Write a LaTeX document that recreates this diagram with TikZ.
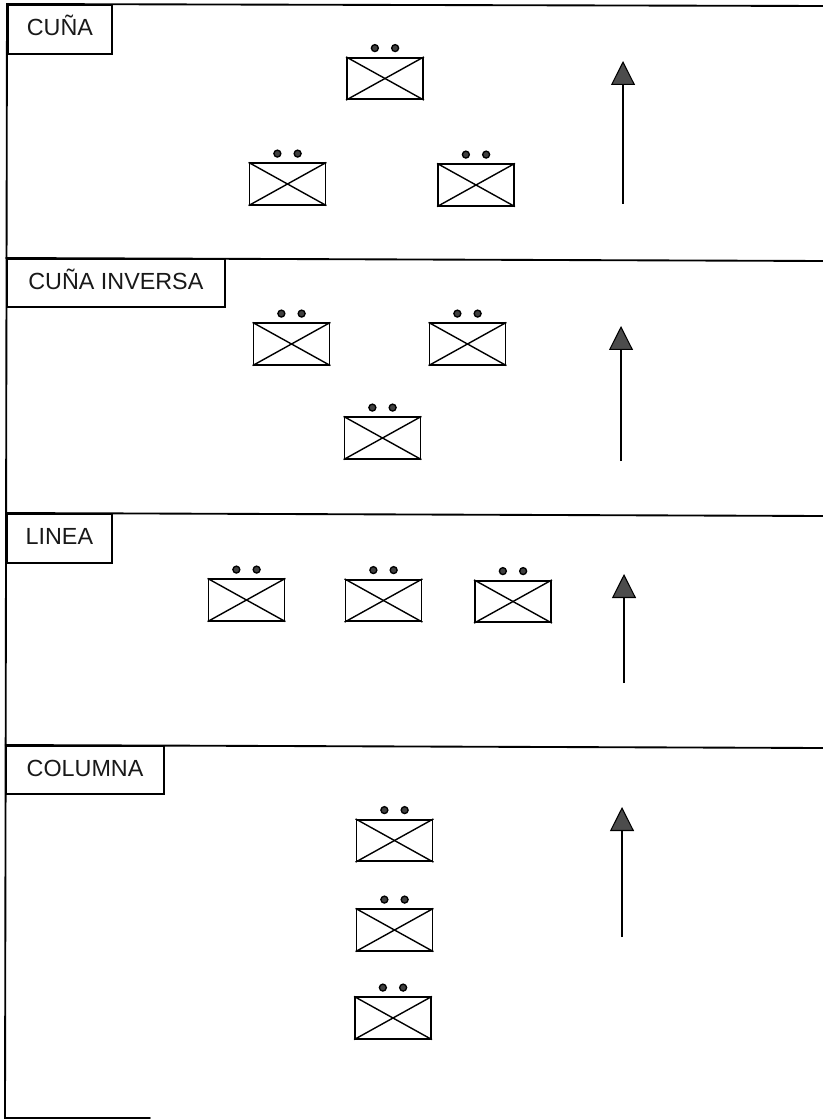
\documentclass[tikz,border=0pt]{standalone}
\usepackage{fontspec}
\setmainfont{Liberation Sans}
\usetikzlibrary{arrows.meta}
\tikzset{
  x=0.75pt,y=-0.75pt,
  frameline/.style={line width=1.4pt,draw=black,line cap=round},
  tabbox/.style={draw=black,line width=1.3pt,fill=white,anchor=north west,inner sep=0pt,
    font=\fontsize{17.5pt}{20pt}\selectfont,text=black!90,text height=13pt,text depth=3.2pt},
  tankbody/.style={draw=black,line width=1.4pt,minimum width=57pt,minimum height=31pt,inner sep=0pt},
  crossline/.style={draw=black,line width=1.05pt},
  lamp/.style={circle,draw=black,line width=1pt,fill=black!75,minimum size=5.2pt,inner sep=0pt},
  dirarrow/.style={line width=1.6pt,draw=black,-{Triangle[length=18pt,width=18pt,fill=black!70,line width=.8pt]}}
}
\newcommand{\vehicle}[3]{% name, x centre, y centre
  \node[tankbody] (#1) at (#2,#3) {};
  \draw[crossline] (#1.north west) -- (#1.south east);
  \draw[crossline] (#1.north east) -- (#1.south west);
  \node[lamp] (#1l) at ([xshift=-7.6pt,yshift=6.6pt]#1.north) {};
  \node[lamp] (#1r) at ([xshift=7.6pt,yshift=6.6pt]#1.north) {};
}
\newcommand{\course}[4]{% name, x, y tip, y tail
  \coordinate (#1tip) at (#2,#3);
  \coordinate (#1tail) at (#2,#4);
  \draw[dirarrow] (#1tail) -- (#1tip);
}
\begin{document}
\begin{tikzpicture}
\useasboundingbox (0,0) rectangle (823,1119);
\coordinate (tl) at (7,4);
\coordinate (tr) at (823,6);
\coordinate (bl) at (5,1118);
\coordinate (bm) at (150,1118);
\coordinate (d1l) at (6,258);
\coordinate (d1r) at (823,261);
\coordinate (d2l) at (6,513);
\coordinate (d2r) at (823,516);
\coordinate (d3l) at (5.5,745);
\coordinate (d3r) at (823,748);
\draw[frameline] (bm) -- (bl) -- (tl) -- (tr);
\draw[frameline] (d1l) -- (d1r);
\draw[frameline] (d2l) -- (d2r);
\draw[frameline] (d3l) -- (d3r);

\node[tabbox,minimum width=78pt,minimum height=36.75pt] (t1) at (7,4) {CUÑA};
\node[tabbox,minimum width=163.5pt,minimum height=36pt] (t2) at (6,258) {CUÑA INVERSA};
\node[tabbox,minimum width=78.75pt,minimum height=36.75pt] (t3) at (6,513) {LINEA};
\node[tabbox,minimum width=118pt,minimum height=36pt] (t4) at (5.5,745) {COLUMNA\hspace{3pt}};

\vehicle{a}{385}{78.5}
\vehicle{b}{287.5}{184}
\vehicle{c}{476}{185}
\vehicle{d}{291.5}{344}
\vehicle{e}{467.5}{344}
\vehicle{f}{382.5}{438}
\vehicle{g}{246.5}{600}
\vehicle{h}{383.5}{600.5}
\vehicle{i}{513}{601.5}
\vehicle{j}{394.5}{840.5}
\vehicle{k}{394.5}{930}
\vehicle{l}{393}{1018}

\course{p}{623}{61}{204}
\course{q}{621}{326}{461}
\course{r}{624}{574}{683}
\course{s}{622}{807}{937}
\end{tikzpicture}
\end{document}
